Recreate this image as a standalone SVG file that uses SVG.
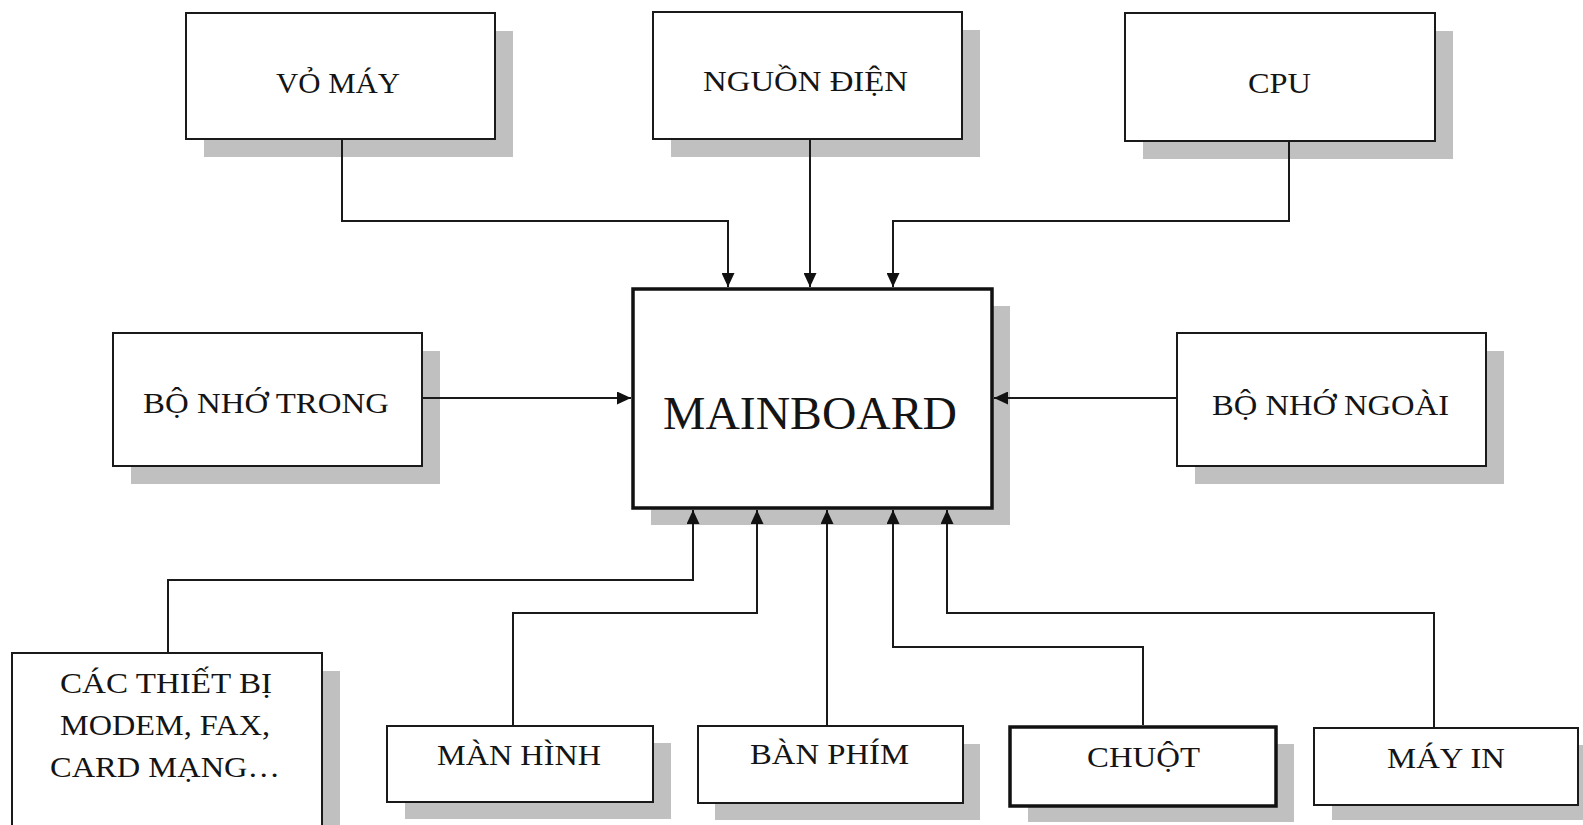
<svg xmlns="http://www.w3.org/2000/svg" width="1583" height="825" viewBox="0 0 1583 825">
<style>
.sh{fill:#c0c0c0;stroke:none}
.bx{fill:#fff;stroke:#1a1a1a;stroke-width:2}
.bxt{fill:#fff;stroke:#111;stroke-width:3.5}
.t{font-family:"Liberation Serif","Times New Roman",serif;font-size:30px;fill:#141414}
.tm{font-family:"Liberation Serif","Times New Roman",serif;font-size:46px;fill:#141414}
.c{fill:none;stroke:#1a1a1a;stroke-width:2}
</style>
<defs>
<marker id="ah" markerUnits="userSpaceOnUse" markerWidth="15" markerHeight="13" refX="14" refY="6.5" orient="auto">
<path d="M0,0 L14,6.5 L0,13 z" fill="#111"/>
</marker>
</defs>
<rect width="1583" height="825" fill="#fff"/>
<g id="vo-may">
<rect class="sh" x="204" y="31" width="309" height="126"/>
<rect class="bx" x="186" y="13" width="309" height="126"/>
<text class="t" x="276" y="93" textLength="124" lengthAdjust="spacingAndGlyphs">VỎ MÁY</text>
</g>
<g id="nguon-dien">
<rect class="sh" x="671" y="30" width="309" height="127"/>
<rect class="bx" x="653" y="12" width="309" height="127"/>
<text class="t" x="703" y="91" textLength="205" lengthAdjust="spacingAndGlyphs">NGUỒN ĐIỆN</text>
</g>
<g id="cpu">
<rect class="sh" x="1143" y="31" width="310" height="128"/>
<rect class="bx" x="1125" y="13" width="310" height="128"/>
<text class="t" x="1248" y="93" textLength="63" lengthAdjust="spacingAndGlyphs">CPU</text>
</g>
<g id="bo-nho-trong">
<rect class="sh" x="131" y="351" width="309" height="133"/>
<rect class="bx" x="113" y="333" width="309" height="133"/>
<text class="t" x="143" y="413" textLength="246" lengthAdjust="spacingAndGlyphs">BỘ NHỚ TRONG</text>
</g>
<g id="mainboard">
<rect class="sh" x="651" y="306" width="359" height="219"/>
<rect class="bxt" x="633" y="289" width="359" height="219"/>
<text class="tm" x="663" y="429" textLength="294" lengthAdjust="spacingAndGlyphs">MAINBOARD</text>
</g>
<g id="bo-nho-ngoai">
<rect class="sh" x="1195" y="351" width="309" height="133"/>
<rect class="bx" x="1177" y="333" width="309" height="133"/>
<text class="t" x="1212" y="415" textLength="237" lengthAdjust="spacingAndGlyphs">BỘ NHỚ NGOÀI</text>
</g>
<g id="cac-thiet-bi">
<rect class="sh" x="30" y="671" width="310" height="200"/>
<rect class="bx" x="12" y="653" width="310" height="200"/>
<text class="t" x="60" y="693" textLength="212" lengthAdjust="spacingAndGlyphs">CÁC THIẾT BỊ</text>
<text class="t" x="60" y="735" textLength="210" lengthAdjust="spacingAndGlyphs">MODEM, FAX,</text>
<text class="t" x="50" y="777" textLength="230" lengthAdjust="spacingAndGlyphs">CARD MẠNG…</text>
</g>
<g id="man-hinh">
<rect class="sh" x="405" y="743" width="266" height="76"/>
<rect class="bx" x="387" y="726" width="266" height="76"/>
<text class="t" x="437" y="765" textLength="164" lengthAdjust="spacingAndGlyphs">MÀN HÌNH</text>
</g>
<g id="ban-phim">
<rect class="sh" x="715" y="744" width="265" height="76"/>
<rect class="bx" x="698" y="726" width="265" height="77"/>
<text class="t" x="750" y="764" textLength="159" lengthAdjust="spacingAndGlyphs">BÀN PHÍM</text>
</g>
<g id="chuot">
<rect class="sh" x="1028" y="744" width="266" height="78"/>
<rect class="bxt" x="1010" y="727" width="266" height="79"/>
<text class="t" x="1087" y="767" textLength="113" lengthAdjust="spacingAndGlyphs">CHUỘT</text>
</g>
<g id="may-in">
<rect class="sh" x="1332" y="745" width="264" height="75"/>
<rect class="bx" x="1314" y="728" width="264" height="77"/>
<text class="t" x="1387" y="768" textLength="118" lengthAdjust="spacingAndGlyphs">MÁY IN</text>
</g>
<g id="connectors">
<path class="c" d="M342,140 V221 H728 V287" marker-end="url(#ah)"/>
<path class="c" d="M810,140 V287" marker-end="url(#ah)"/>
<path class="c" d="M1289,142 V221 H893 V287" marker-end="url(#ah)"/>
<path class="c" d="M422,398 H631" marker-end="url(#ah)"/>
<path class="c" d="M1176,398 H994" marker-end="url(#ah)"/>
<path class="c" d="M168,652 V580 H693 V510" marker-end="url(#ah)"/>
<path class="c" d="M513,725 V613 H757 V510" marker-end="url(#ah)"/>
<path class="c" d="M827,725 V510" marker-end="url(#ah)"/>
<path class="c" d="M1143,725 V647 H893 V510" marker-end="url(#ah)"/>
<path class="c" d="M1434,727 V613 H947 V510" marker-end="url(#ah)"/>
</g>
</svg>
